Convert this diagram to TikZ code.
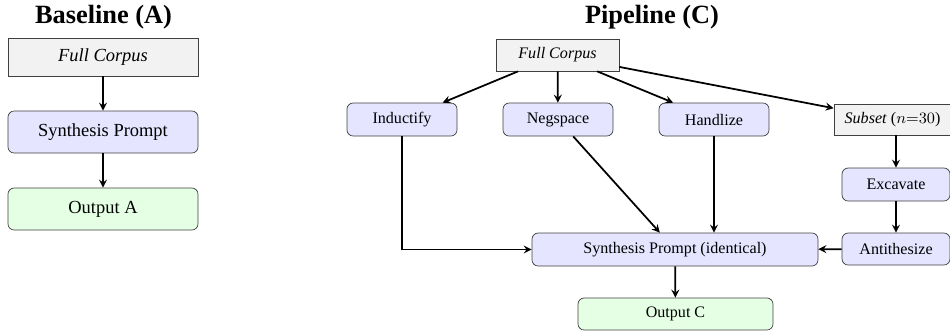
\documentclass[tikz,border=0pt]{standalone}
\usepackage{fontspec}
\setmainfont{Liberation Serif}
\tikzset{>=stealth}

\begin{document}
\begin{tikzpicture}[
    src/.style={draw=black!75, fill=black!5, font=\itshape},
    stage/.style={draw=black!75, fill=blue!10, rounded corners=3.5pt},
    result/.style={draw=black!75, fill=green!10, rounded corners=3.5pt},
    big/.style={font=\fontsize{10.5}{12}\selectfont, minimum width=3.8cm, minimum height=0.84cm},
    small/.style={font=\fontsize{9.15}{11}\selectfont, minimum height=0.66cm},
    head/.style={font=\fontsize{15}{17}\selectfont\bfseries},
    flow/.style={->, line width=1pt}]
    \useasboundingbox (0,0) rectangle (19,-6.6);
    % baseline
    \node[head] (titleA) at (2.07,-0.34) {Baseline (A)};
    \node[src, big, minimum height=0.76cm, font=\fontsize{10.5}{12}\selectfont\itshape] (corpusA) at (2.06,-1.14) {Full Corpus};
    \node[stage, big] (synthA) at (2.06,-2.64) {Synthesis Prompt};
    \node[result, big] (outA) at (2.06,-4.18) {Output A};
    \draw[flow] (corpusA) -- (synthA);
    \draw[flow] (synthA) -- (outA);
    % pipeline
    \node[head] (titleC) at (13.04,-0.34) {Pipeline (C)};
    \node[src, small, minimum width=2.46cm, minimum height=0.64cm, font=\fontsize{9.15}{11}\selectfont\itshape] (corpusC) at (11.15,-1.10) {Full Corpus};
    \node[stage, small, minimum width=2.2cm] (induct) at (8.04,-2.39) {Inductify};
    \node[stage, small, minimum width=2.2cm] (negsp) at (11.16,-2.39) {Negspace};
    \node[stage, small, minimum width=2.2cm] (handl) at (14.28,-2.39) {Handlize};
    \node[src, small, minimum width=2.34cm, minimum height=0.62cm, font=\fontsize{9.15}{11}\selectfont] (subset) at (17.85,-2.39) {\textit{Subset} ($n{=}30$)};
    \node[stage, small, minimum width=2.16cm] (excav) at (17.92,-3.69) {Excavate};
    \node[stage, small, minimum width=2.16cm, minimum height=0.64cm] (antith) at (17.92,-4.98) {Antithesize};
    \node[stage, small, minimum width=5.72cm] (synthC) at (13.5,-4.99) {Synthesis Prompt (identical)};
    \node[result, small, minimum width=3.9cm, minimum height=0.64cm] (outC) at (13.51,-6.28) {Output C};
    \draw[flow] (corpusC) -- (induct);
    \draw[flow] (corpusC) -- (negsp);
    \draw[flow] (corpusC) -- (handl);
    \draw[flow] (corpusC) -- (subset);
    \draw[flow] (subset.south -| excav) -- (excav);
    \draw[flow] (excav) -- (antith);
    \draw[flow] (induct) |- (synthC);
    \draw[flow] (negsp) -- (synthC);
    \draw[flow] (handl) -- (handl |- synthC.north);
    \draw[flow] (antith) -- (synthC);
    \draw[flow] (synthC) -- (outC);
\end{tikzpicture}
\end{document}
